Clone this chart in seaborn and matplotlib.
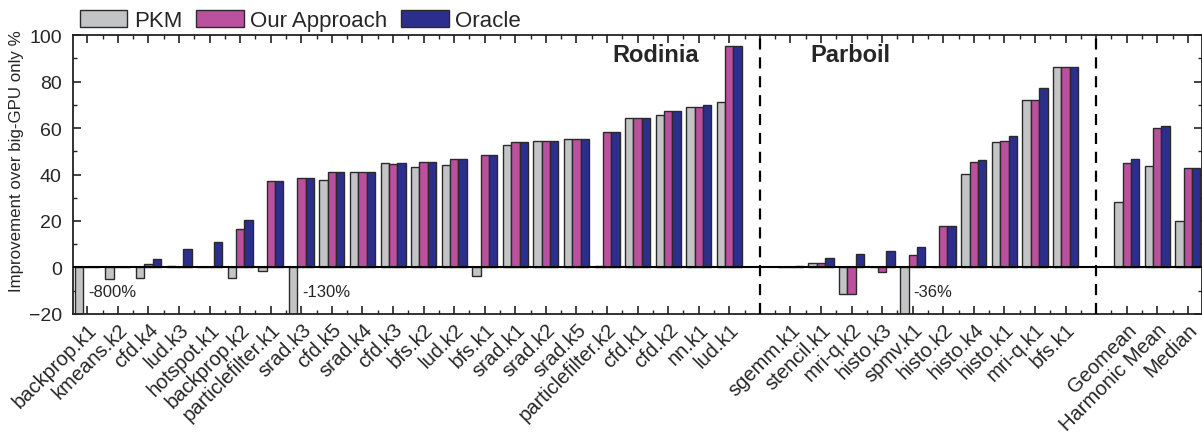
import pandas as pd
import seaborn as sns
import matplotlib.pyplot as plt
from matplotlib.ticker import MultipleLocator

rodinia = ['backprop.k1', 'kmeans.k2', 'cfd.k4', 'lud.k3', 'hotspot.k1', 'backprop.k2',
           'particlefilter.k1', 'srad.k3', 'cfd.k5', 'srad.k4', 'cfd.k3', 'bfs.k2', 'lud.k2',
           'bfs.k1', 'srad.k1', 'srad.k2', 'srad.k5', 'particlefilter.k2', 'cfd.k1', 'cfd.k2',
           'nn.k1', 'lud.k1']
parboil = ['sgemm.k1', 'stencil.k1', 'mri-q.k2', 'histo.k3', 'spmv.k1', 'histo.k2',
           'histo.k4', 'histo.k1', 'mri-q.k1', 'bfs.k1']
summary = ['Geomean', 'Harmonic Mean', 'Median']

pkm_rodinia = [-800, -4.9, -4.6, 0.7, 0, -4.7, -1.6, -130, 37.5, 41.1, 44.8, 43.1, 44.1,
               -3.6, 52.9, 54.5, 55.4, 0.7, 64.2, 65.8, 69.0, 71.4]
ours_rodinia = [0, 0, 1.3, 0, 0, 16.4, 37.0, 38.5, 40.9, 41.1, 44.6, 45.2, 46.8,
                48.6, 54.2, 54.5, 55.4, 58.5, 64.2, 67.4, 69.0, 95.1]
oracle_rodinia = [0, 0, 3.6, 7.9, 10.9, 20.6, 37.0, 38.5, 40.9, 41.1, 45.1, 45.2, 46.8,
                  48.6, 54.2, 54.5, 55.4, 58.5, 64.2, 67.4, 69.8, 95.1]

pkm_parboil = [0, 2.0, -11.6, 0, -36, 0, 40.3, 53.9, 72.2, 86.4]
ours_parboil = [0, 2.0, -11.6, -2.0, 5.3, 18.0, 45.6, 54.4, 72.2, 86.4]
oracle_parboil = [0.7, 3.9, 5.7, 7.0, 8.7, 18.0, 46.4, 56.7, 77.1, 86.4]

pkm_summary = [28.3, 43.5, 19.9]
ours_summary = [45.1, 60.2, 42.9]
oracle_summary = [46.5, 60.9, 42.9]

series = ['PKM', 'Our Approach', 'Oracle']
colors = ['#c3c4c6', '#bb509f', '#2b2e8c']

# bfs.k1 is in both suites, so key every bar by suite + name
keys, labels = [], []
for suite, names in (('Rodinia', rodinia), ('Parboil', parboil), ('Summary', summary)):
    for n in names:
        keys.append(suite + '/' + n)
        labels.append(n)

values = {
    'PKM': pkm_rodinia + pkm_parboil + pkm_summary,
    'Our Approach': ours_rodinia + ours_parboil + ours_summary,
    'Oracle': oracle_rodinia + oracle_parboil + oracle_summary,
}
rows = []
for s in series:
    for k, v in zip(keys, values[s]):
        rows.append({'benchmark': k, 'series': s, 'value': v})
df = pd.DataFrame(rows)

# empty slots separate the suites
nr, npb = len(rodinia), len(parboil)
order = keys[:nr] + ['gap1'] + keys[nr:nr + npb] + ['gap2'] + keys[nr + npb:]
tick_labels = labels[:nr] + [''] + labels[nr:nr + npb] + [''] + labels[nr + npb:]

sns.set_style('ticks')
plt.rcParams['font.family'] = ['Liberation Sans', 'DejaVu Sans']

fig = plt.figure(figsize=(12.02, 4.35), dpi=100)
ax = fig.add_axes([0.0607, 0.276, 0.939, 0.641])

sns.barplot(data=df, x='benchmark', y='value', hue='series', order=order,
            hue_order=series, palette=colors, width=0.82, edgecolor='#2a2a2a',
            linewidth=1.0, saturation=1, errorbar=None, ax=ax)

ax.set_ylim(-20, 100)
ax.set_xlim(-0.47, len(order) - 0.55)
ax.axhline(0, color='black', lw=1.5, zorder=3)

for pos in (order.index('gap1'), order.index('gap2')):
    ax.axvline(pos, color='black', lw=1.6, ls=(0, (5, 3.5)), zorder=3)

# notes for clipped bars
notes = [('Rodinia/backprop.k1', '-800%'), ('Rodinia/srad.k3', '-130%'),
         ('Parboil/spmv.k1', '-36%')]
for key, txt in notes:
    ax.text(order.index(key) + 0.03, -10.5, txt, fontsize=12, ha='left', va='center')

ax.text(order.index('Rodinia/cfd.k1') + 0.6, 91.5, 'Rodinia', fontsize=17,
        fontweight='bold', ha='center', va='center')
ax.text(order.index('Parboil/mri-q.k2') - 0.05, 91.5, 'Parboil', fontsize=17,
        fontweight='bold', ha='center', va='center')

ax.set_xticks(range(len(order)))
ax.set_xticklabels(tick_labels, rotation=45, ha='right', rotation_mode='anchor',
                   fontsize=14.5)
ax.xaxis.set_minor_locator(MultipleLocator(0.5))
ax.yaxis.set_major_locator(MultipleLocator(20))
ax.yaxis.set_minor_locator(MultipleLocator(10))
ax.tick_params(axis='both', which='both', direction='in', top=True, right=True,
               color='#222222')
ax.tick_params(axis='both', which='major', length=6, width=1.2)
ax.tick_params(axis='both', which='minor', length=3, width=1.0)
ax.tick_params(axis='y', labelsize=14, pad=8)
ax.tick_params(axis='x', pad=4)
for sp in ax.spines.values():
    sp.set_linewidth(1.3)
    sp.set_color('#222222')

ax.set_xlabel('')
ax.set_ylabel('Improvement over big-GPU only %', fontsize=12.2)
ax.yaxis.set_label_coords(-0.043, 0.55)

handles, hl = ax.get_legend_handles_labels()
ax.legend(handles, hl, loc='lower left', bbox_to_anchor=(0.004, 1.005), ncol=3,
          frameon=False, fontsize=16, handlelength=2.15, handleheight=0.8,
          handletextpad=0.3, columnspacing=0.6, borderaxespad=0, borderpad=0.1)

fig.savefig('out.png', dpi=100)
